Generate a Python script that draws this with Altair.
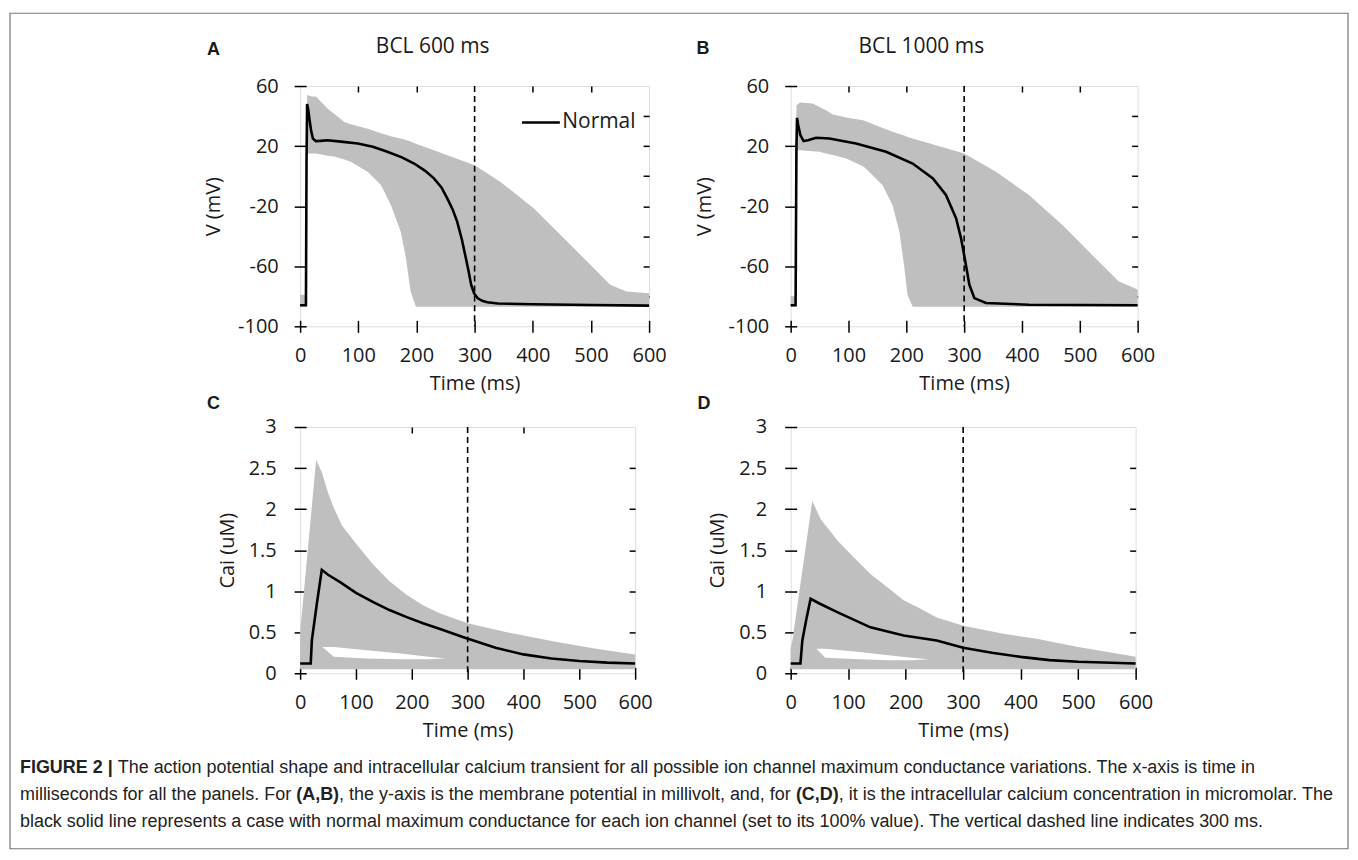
import altair as alt
import pandas as pd

# ---------------- data ----------------
# Panel A (BCL 600 ms): envelope of all variations + normal AP
A_t  = [0, 10, 12, 20, 27, 47, 60, 76, 87, 116, 139, 156, 173, 182, 190, 199, 230, 300, 344, 402, 459, 499, 533, 561, 600]
A_hi = [-79, -79, 54, 53, 53, 45, 41, 36, 34.5, 31.6, 28.5, 26.5, 25, 24, 23, 21.5, 17.3, 7.3, -3.7, -21.5, -43.6, -59, -72.3, -76.8, -78]
A_lo = [-87, -87, 15, 15, 15, 13.5, 12.9, 11, 9.6, 2.9, -5.9, -19.2, -37, -54.7, -76.8, -87, -87, -87, -87, -87, -87, -87, -87, -87, -87]
A_nt = [0, 10, 11, 12, 14, 16, 19, 22, 27, 35, 47, 70, 99, 125, 150, 175, 196, 215, 230, 243, 253, 262, 270, 278, 285, 290, 294, 299, 305, 313, 322, 340, 400, 500, 600]
A_nv = [-86, -86, 10, 48, 44, 38, 30, 25, 23.3, 23.5, 23.9, 23, 21.7, 19.5, 16.2, 12.5, 8.4, 3.5, -1.5, -7.5, -14.8, -22, -30.3, -42, -54.7, -64, -72.3, -78, -81.2, -83, -84, -84.8, -85.3, -85.8, -86.2]

# Panel B (BCL 1000 ms)
B_t  = [0, 8, 10, 16, 38, 50, 61, 73, 96, 125, 130, 159, 176, 188, 196, 202, 211, 300, 355, 412, 470, 527, 567, 600]
B_hi = [-80, -80, 47, 49, 48.4, 46, 43.8, 41, 39, 37.2, 36.5, 32, 29.5, 28, 27, 26, 25, 15, 2.9, -12.6, -32.5, -54.7, -70, -75.5]
B_lo = [-87, -87, 17, 17.3, 16.5, 16.2, 15, 14, 11.8, 6.5, 5.1, -6, -19.2, -37, -59, -79, -87, -87, -87, -87, -87, -87, -87, -87]
B_nt = [0, 8.5, 10, 11, 13, 16.7, 22.4, 30, 44, 67, 113, 165, 211, 246, 268.5, 286, 294.6, 302, 309, 317.6, 337.7, 412, 600]
B_nv = [-86, -86, 20, 38.8, 34, 27.3, 23.3, 23.9, 25.6, 25.1, 21.7, 16.2, 8.4, -1.5, -12.5, -28, -41.3, -56.8, -72.3, -81.2, -84.5, -85.6, -86]

# Panel C (Cai, BCL 600 ms)
C_t  = [0, 28.7, 38.8, 50, 60, 75, 100, 130, 160, 190, 220, 250, 300, 370, 460, 530, 600]
C_hi = [0.5, 2.6, 2.45, 2.2, 2.02, 1.8, 1.58, 1.33, 1.12, 0.96, 0.83, 0.73, 0.61, 0.5, 0.38, 0.3, 0.23]
C_lo = [0.05] * len(C_t)
C_ht = [40, 60, 120, 180, 230, 260]          # white gap inside the band
C_hh = [0.32, 0.32, 0.28, 0.24, 0.2, 0.18]
C_hl = [0.32, 0.2, 0.18, 0.17, 0.17, 0.18]
C_nt = [0, 19, 21, 30, 38.8, 50, 71.6, 100, 131, 160, 191, 220, 250.7, 292.5, 350, 400, 450, 500, 550, 600]
C_nv = [0.12, 0.12, 0.4, 0.85, 1.26, 1.2, 1.11, 0.98, 0.866, 0.77, 0.684, 0.61, 0.54, 0.44, 0.31, 0.23, 0.18, 0.15, 0.13, 0.12]

# Panel D (Cai, BCL 1000 ms)
D_t  = [0, 3, 37.6, 52, 81, 110, 138.7, 167.6, 196.5, 225, 254, 300.5, 370, 428, 500, 600]
D_hi = [0.3, 0.4, 2.1, 1.88, 1.62, 1.41, 1.21, 1.05, 0.89, 0.79, 0.68, 0.58, 0.48, 0.42, 0.32, 0.2]
D_lo = [0.05] * len(D_t)
D_ht = [45, 60, 120, 170, 210, 240]
D_hh = [0.3, 0.3, 0.26, 0.22, 0.19, 0.17]
D_hl = [0.3, 0.19, 0.17, 0.16, 0.16, 0.17]
D_nt = [0, 17, 20.3, 27, 34.7, 50, 81, 138.7, 196.5, 254, 300, 350, 400, 450, 500, 600]
D_nv = [0.12, 0.12, 0.4, 0.65, 0.907, 0.85, 0.745, 0.56, 0.46, 0.40, 0.31, 0.25, 0.2, 0.16, 0.14, 0.12]

X_TICKS = [0, 100, 200, 300, 400, 500, 600]
V_TICKS = [-100, -60, -20, 20, 60]
V_MIRROR = [-80, -60, -40, -20, 0, 20, 40]
C_TICKS = [0, 0.5, 1, 1.5, 2, 2.5, 3]
C_MIRROR = [0.5, 1, 1.5, 2, 2.5]
DASH_T = [300]
LEGEND_NAME = ["Normal"]
LETTERS = ["A", "B", "C", "D"]
TITLES = ["BCL 600 ms", "BCL 1000 ms"]
# caption lines: list of (text, bold) segments
CAPTION_LINES = [
    [("FIGURE 2 | ", True),
     ("The action potential shape and intracellular calcium transient for all possible ion channel maximum conductance variations. The x-axis is time in", False)],
    [("milliseconds for all the panels. For ", False), ("(A,B)", True),
     (", the y-axis is the membrane potential in millivolt, and, for ", False), ("(C,D)", True),
     (", it is the intracellular calcium concentration in micromolar. The", False)],
    [("black solid line represents a case with normal maximum conductance for each ion channel (set to its 100% value). The vertical dashed line indicates 300 ms.", False)],
]

FONT = "Open Sans"
FS = 20
CAPFONT = "Liberation Sans"
CAPSIZE = 18
GRAY = "#bfbfbf"
TXT = "#1a1a1a"

# Arial/Liberation Sans advance widths (per 1000 em) used to place bold/regular caption pieces
_REG = {" ": 278, "%": 889, "(": 333, ")": 333, ",": 278, "-": 333, ".": 278, "|": 260,
        "A": 667, "B": 667, "C": 722, "D": 722, "E": 667, "F": 611, "G": 778, "I": 278,
        "R": 722, "T": 611, "U": 722,
        "a": 556, "b": 556, "c": 500, "d": 556, "e": 556, "f": 278, "g": 556, "h": 556,
        "i": 222, "j": 222, "k": 500, "l": 222, "m": 833, "n": 556, "o": 556, "p": 556,
        "q": 556, "r": 333, "s": 500, "t": 278, "u": 556, "v": 500, "w": 722, "x": 500,
        "y": 500, "z": 500}
_BOLD = {" ": 278, "(": 333, ")": 333, ",": 278, "|": 280, "A": 722, "B": 722, "C": 722,
         "D": 722, "E": 667, "F": 611, "G": 778, "I": 278, "R": 722, "U": 722}


def text_width(s, bold, size):
    table = _BOLD if bold else _REG
    return sum(table.get(ch, 556) for ch in s) * size / 1000.0


def text_layer(s, x, y, size, weight="normal", font=FONT, align="center", color=TXT):
    return alt.Chart(pd.DataFrame({"s": [s]})).mark_text(
        font=font, fontSize=size, fontWeight=weight, align=align, baseline="middle", color=color
    ).encode(text="s:N", x=alt.value(x), y=alt.value(y))


def panel(t, lo, hi, nt, nv, w, h, ydom, yticks, ymirror, ytitle, ytitle_x, ylab_pad,
          xmirror, letter, letter_xy, title=None, title_xy=None, hole=None, legend=False,
          extra=None, top_ticks_visible=True):
    xs = alt.Scale(domain=[0, 600], nice=False, zero=False)
    ys = alt.Scale(domain=ydom, nice=False, zero=False)
    common = dict(labelFont=FONT, labelFontSize=FS, labelColor=TXT, tickColor="black",
                  tickWidth=1.5, domain=False, grid=False, labelFlush=False, labelOverlap=False,
                  labelExpr="toString(datum.value)")
    x_bottom = alt.Axis(orient="bottom", values=X_TICKS, offset=-6, tickSize=12, labelPadding=23,
                        labelBaseline="middle", title="Time (ms)", titleFont=FONT, titleFontSize=FS,
                        titleFontWeight="normal", titleColor=TXT, titleX=w / 2, titleY=63,
                        titleBaseline="middle", titleAlign="center", **common)
    y_left = alt.Axis(orient="left", values=yticks, offset=-6, tickSize=12, labelPadding=ylab_pad,
                      labelAlign="right", labelBaseline="middle", title=ytitle,
                      titleFont=FONT, titleFontSize=FS, titleFontWeight="normal", titleColor=TXT,
                      titleX=ytitle_x - 6, titleY=h / 2, titleAngle=270, titleBaseline="middle",
                      titleAlign="center", **common)
    y_right = alt.Axis(orient="right", values=ymirror, offset=-6, tickSize=6, labels=False,
                       title=None, tickColor="black", tickWidth=1.5, domain=False, grid=False)
    x_top = alt.Axis(orient="top", values=xmirror, offset=-6, tickSize=6, labels=False,
                     title=None, tickColor="black", tickWidth=1.5, domain=False, grid=False,
                     tickOpacity=1 if top_ticks_visible else 0)

    env = pd.DataFrame({"t": t, "lo": lo, "hi": hi})
    layers = [
        alt.Chart(env).mark_area(color=GRAY, opacity=1).encode(
            x=alt.X("t:Q", scale=xs, axis=x_bottom),
            y=alt.Y("lo:Q", scale=ys, axis=y_left),
            y2="hi:Q",
        )
    ]
    if hole is not None:
        ht, hl, hh = hole
        layers.append(
            alt.Chart(pd.DataFrame({"t": ht, "lo": hl, "hi": hh})).mark_area(color="white", opacity=1).encode(
                x=alt.X("t:Q", scale=xs, axis=None),
                y=alt.Y("lo:Q", scale=ys, axis=None),
                y2="hi:Q",
            )
        )
    layers.append(
        alt.Chart(pd.DataFrame({"t": DASH_T})).mark_rule(color="black", strokeWidth=1.6, strokeDash=[6, 4]).encode(
            x=alt.X("t:Q", scale=xs, axis=x_top)
        )
    )
    norm = pd.DataFrame({"t": nt, "v": nv, "s": LEGEND_NAME * len(nt)})
    enc = dict(x=alt.X("t:Q", scale=xs, axis=None), y=alt.Y("v:Q", scale=ys, axis=y_right))
    if legend:
        enc["color"] = alt.Color("s:N", scale=alt.Scale(domain=LEGEND_NAME, range=["black"]),
                                 legend=alt.Legend(orient="none", legendX=221, legendY=16, title=None,
                                                   symbolType="stroke", symbolSize=1444,
                                                   symbolStrokeWidth=2.5, symbolStrokeColor="black",
                                                   labelFont=FONT, labelFontSize=21, labelColor=TXT,
                                                   padding=0, labelOffset=1, symbolOffset=0))
        layers.append(alt.Chart(norm).mark_line(strokeWidth=2.6).encode(**enc))
    else:
        layers.append(alt.Chart(norm).mark_line(color="black", strokeWidth=2.6).encode(**enc))

    layers.append(text_layer(letter, letter_xy[0], letter_xy[1], 18, "bold", "Liberation Sans"))
    if title:
        layers.append(text_layer(title, title_xy[0], title_xy[1], 21))
    if extra:
        layers.extend(extra)
    return alt.layer(*layers).properties(width=w, height=h)


# figure border and caption (positioned relative to panel A's plot origin)
border = alt.Chart(pd.DataFrame({"s": ["frame"]})).mark_rect(
    filled=False, stroke="#777777", strokeWidth=1.2
).encode(x=alt.value(-291), x2=alt.value(1051), y=alt.value(-73), y2=alt.value(765))

cap = []
for i, line in enumerate(CAPTION_LINES):
    x = -281.0
    y = 684 + 27 * i
    for seg, bold in line:
        cap.append(text_layer(seg, x, y, CAPSIZE, "bold" if bold else "normal", CAPFONT, "left", "#222222"))
        x += text_width(seg, bold, CAPSIZE)

pA = panel(A_t, A_lo, A_hi, A_nt, A_nv, 350, 241, [-100, 60], V_TICKS, V_MIRROR, "V (mV)", -87, 16,
           [100, 200, 400, 500], LETTERS[0], (-87, -36), TITLES[0], (133, -39), legend=True,
           extra=[border] + cap)
pB = panel(B_t, B_lo, B_hi, B_nt, B_nv, 348, 241, [-100, 60], V_TICKS, V_MIRROR, "V (mV)", -86, 16,
           [100, 200, 400, 500], LETTERS[1], (-88, -37), TITLES[1], (131, -39))
pC = panel(C_t, C_lo, C_hi, C_nt, C_nv, 336, 247, [0, 3], C_TICKS, C_MIRROR, "Cai (uM)", -73, 18,
           [200, 400], LETTERS[2], (-87, -23), hole=(C_ht, C_hl, C_hh))
pD = panel(D_t, D_lo, D_hi, D_nt, D_nv, 346, 247, [0, 3], C_TICKS, C_MIRROR, "Cai (uM)", -73, 18,
           [200, 400], LETTERS[3], (-87, -23), hole=(D_ht, D_hl, D_hh), top_ticks_visible=False)

chart = alt.concat(pA, pB, pC, pD, columns=2, spacing={"row": 101, "column": 142}, bounds="flush").resolve_scale(
    color="independent"
).properties(
    padding={"left": 0, "top": 2, "right": 0, "bottom": 0}
).configure_view(stroke="black", strokeWidth=1.8).configure(background="white")

chart.save("out.html", embed_options={"renderer": "svg", "actions": False})
